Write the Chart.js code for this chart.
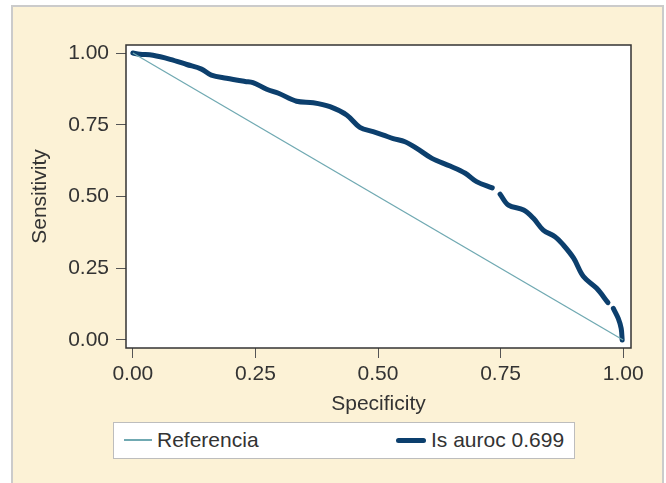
<!DOCTYPE html>
<html>
<head>
<meta charset="utf-8">
<script src="https://cdn.jsdelivr.net/npm/chart.js@4/dist/chart.umd.min.js"></script>
<style>
  html, body { margin: 0; padding: 0; background: #fff; }
  body { width: 666px; height: 483px; position: relative; overflow: hidden; font-family: 'Liberation Sans', Arial, sans-serif; }
  .panel { position: absolute; left: 11px; top: 5px; width: 649px; height: 500px; background: #fcf2d6; border: 2px solid #cbcbcb; }
  #chart { position: absolute; left: 0; top: 0; }
  .legend { position: absolute; left: 113px; top: 422px; width: 462px; height: 37px; box-sizing: border-box; background: #fff; border: 1.5px solid #bdbdbd; }
  .item { position: absolute; top: 0; height: 34px; display: flex; align-items: center; font-size: 21px; color: #333; }
  .swatch { display: inline-block; margin-right: 5px; }
</style>
</head>
<body>
<div class="panel"></div>
<canvas id="chart" width="666" height="483"></canvas>
<div class="legend" id="legend"></div>
<script>
// ---- Data ----
const seriesNames = ['Referencia', 'Is auroc 0.699'];
const refSpec = [0, 1];
const refSens = [1, 0];

// ROC curve (null = break in the drawn line)
const rocSpec = [0.000, 0.014, 0.041, 0.076, 0.110, 0.140, 0.160, 0.191, 0.229, 0.245, 0.273, 0.297, 0.334, 0.368, 0.402, 0.436, 0.463, 0.490, 0.511, 0.531, 0.555, 0.579, 0.610, 0.647, 0.678, 0.701, 0.733, 0.740, 0.749, 0.766, 0.797, 0.817, 0.837, 0.861, 0.878, 0.899, 0.919, 0.946, 0.969, 0.974, 0.980, 0.990, 0.996, 0.998];
const rocSens = [1.000, 0.996, 0.992, 0.978, 0.960, 0.944, 0.923, 0.912, 0.901, 0.897, 0.874, 0.860, 0.832, 0.827, 0.813, 0.784, 0.741, 0.726, 0.714, 0.702, 0.691, 0.668, 0.633, 0.606, 0.581, 0.552, 0.530, null, 0.508, 0.470, 0.453, 0.424, 0.383, 0.360, 0.331, 0.285, 0.221, 0.180, 0.130, null, 0.110, 0.075, 0.040, 0.000];

const xTicks = [0, 0.25, 0.5, 0.75, 1];
const xTickLabels = ['0.00', '0.25', '0.50', '0.75', '1.00'];
const yTicks = [0, 0.25, 0.5, 0.75, 1];
const yTickLabels = ['0.00', '0.25', '0.50', '0.75', '1.00'];

const colors = ['#70a9b2', '#0c3f6d'];
const widths = [1.3, 5];

// ---- Plot frame ----
const framePlugin = {
  id: 'frame',
  beforeDraw(chart) {
    const { ctx, chartArea: a } = chart;
    ctx.save();
    ctx.fillStyle = '#fff';
    ctx.fillRect(a.left, a.top, a.right - a.left, a.bottom - a.top);
    ctx.restore();
  },
  afterDraw(chart) {
    const { ctx, chartArea: a } = chart;
    ctx.save();
    ctx.strokeStyle = '#333';
    ctx.lineWidth = 1.5;
    ctx.strokeRect(a.left, a.top, a.right - a.left, a.bottom - a.top);
    ctx.restore();
  }
};

const tickFont = { family: "'Liberation Sans', Arial, sans-serif", size: 21 };

new Chart(document.getElementById('chart'), {
  type: 'scatter',
  data: {
    datasets: [
      {
        label: seriesNames[0],
        data: refSpec.map((x, i) => ({ x, y: refSens[i] })),
        showLine: true,
        borderColor: colors[0],
        borderWidth: widths[0],
        pointRadius: 0
      },
      {
        label: seriesNames[1],
        data: rocSpec.map((x, i) => ({ x, y: rocSens[i] })),
        showLine: true,
        spanGaps: false,
        borderColor: colors[1],
        borderWidth: widths[1],
        borderCapStyle: 'round',
        borderJoinStyle: 'round',
        tension: 0.35,
        pointRadius: 0
      }
    ]
  },
  options: {
    responsive: false,
    animation: false,
    events: [],
    layout: { padding: { top: 45, right: 35, left: 0, bottom: 0 } },
    plugins: { legend: { display: false }, tooltip: { enabled: false } },
    scales: {
      x: {
        type: 'linear',
        min: -0.014,
        max: 1.016,
        afterFit: s => { s.height = 135; },
        afterBuildTicks: s => { s.ticks = xTicks.map(v => ({ value: v })); },
        ticks: { callback: (v, i) => xTickLabels[i], color: '#333', font: tickFont, padding: 4, maxRotation: 0 },
        grid: { drawOnChartArea: false, tickLength: 10, color: '#555', tickWidth: 1 },
        border: { display: false },
        title: { display: true, text: 'Specificity', color: '#333', font: tickFont, padding: { top: 0, bottom: 66 } }
      },
      y: {
        type: 'linear',
        min: -0.028,
        max: 1.028,
        afterFit: s => { s.width = 126; },
        afterBuildTicks: s => { s.ticks = yTicks.map(v => ({ value: v })); },
        ticks: { callback: (v, i) => yTickLabels[i], color: '#333', font: tickFont, padding: 7 },
        grid: { drawOnChartArea: false, tickLength: 10, color: '#555', tickWidth: 1 },
        border: { display: false },
        title: { display: true, text: 'Sensitivity', color: '#333', font: tickFont, padding: { top: 28, bottom: 0 } }
      }
    }
  },
  plugins: [framePlugin]
});

// ---- Legend ----
const legend = document.getElementById('legend');
const legendX = [10, 282];
const swatchW = [28, 30];
seriesNames.forEach((name, i) => {
  const item = document.createElement('div');
  item.className = 'item';
  item.style.left = legendX[i] + 'px';
  const sw = document.createElement('span');
  sw.className = 'swatch';
  sw.style.width = swatchW[i] + 'px';
  sw.style.height = Math.max(2, widths[i]) + 'px';
  sw.style.background = colors[i];
  sw.style.borderRadius = i ? '3px' : '0';
  item.appendChild(sw);
  item.appendChild(document.createTextNode(name));
  legend.appendChild(item);
});
</script>
</body>
</html>
